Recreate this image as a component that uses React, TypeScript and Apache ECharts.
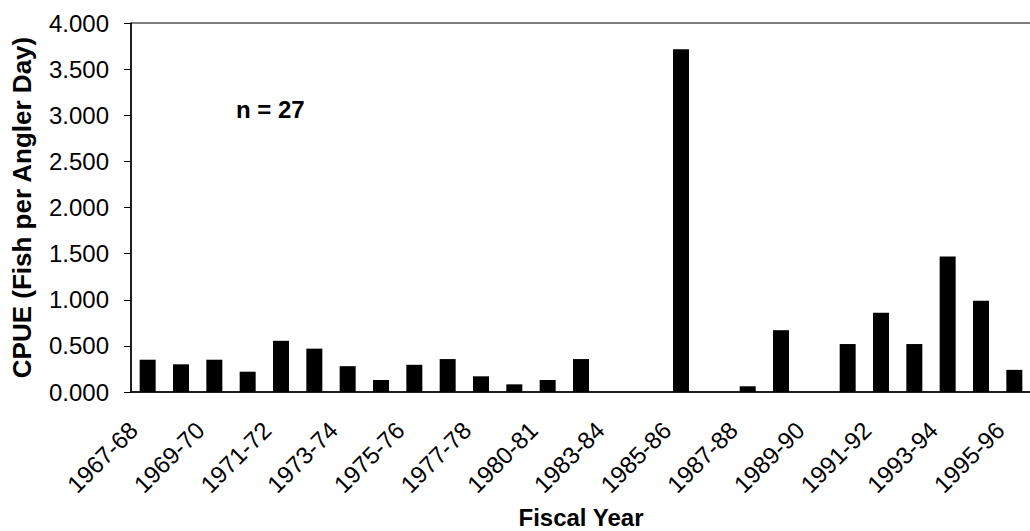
import React, { useEffect, useRef } from "react";
import * as echarts from "echarts";

const categories = [
  "1967-68", "1968-69", "1969-70", "1970-71", "1971-72", "1972-73", "1973-74",
  "1974-75", "1975-76", "1976-77", "1977-78", "1978-79", "1980-81", "1981-82",
  "1983-84", "1984-85", "1985-86", "1986-87", "1987-88", "1988-89", "1989-90",
  "1990-91", "1991-92", "1992-93", "1993-94", "1994-95", "1995-96",
];

const cpue = [
  0.35, 0.3, 0.35, 0.22, 0.555, 0.47, 0.28, 0.13, 0.295, 0.357, 0.17, 0.083,
  0.13, 0.357, 0, 0, 3.716, 0, 0.062, 0.67, 0, 0.52, 0.86, 0.52, 1.47, 0.99, 0.24,
];

const yMin = 0;
const yMax = 4;
const yStep = 0.5;
const sampleNote = "n = 27";
const yTitle = "CPUE (Fish per Angler Day)";
const xTitle = "Fiscal Year";

const FONT = '"Liberation Sans", Arial, sans-serif';

export default function App() {
  const ref = useRef<HTMLDivElement>(null);

  useEffect(() => {
    document.body.style.margin = "0";
    if (!ref.current) return;
    const chart = echarts.init(ref.current, undefined, { renderer: "svg" });
    chart.setOption({
      animation: false,
      backgroundColor: "#fff",
      grid: {
        left: 131,
        top: 23,
        width: 900,
        bottom: 139,
        containLabel: false,
        outerBoundsMode: "none",
        show: true,
        borderColor: "#000",
        borderWidth: 1,
        backgroundColor: "transparent",
      },
      xAxis: {
        type: "category",
        data: categories,
        axisLine: { show: true, lineStyle: { color: "#000", width: 1.5 } },
        axisTick: { show: false },
        axisLabel: {
          interval: 1,
          rotate: 45,
          margin: 20,
          padding: [0, 20, 0, 0],
          color: "#000",
          fontSize: 24,
          fontFamily: FONT,
        },
        name: xTitle,
        nameLocation: "middle",
        nameGap: 113,
        nameTextStyle: {
          color: "#000",
          fontSize: 24,
          fontWeight: "bold",
          fontFamily: FONT,
        },
      },
      yAxis: {
        type: "value",
        min: yMin,
        max: yMax,
        interval: yStep,
        axisLine: { show: true, lineStyle: { color: "#000", width: 1.5 } },
        axisTick: { show: true, inside: false, length: 7, lineStyle: { color: "#000" } },
        splitLine: { show: false },
        axisLabel: {
          margin: 22,
          color: "#000",
          fontSize: 24,
          fontFamily: FONT,
          formatter: (v: number) => v.toFixed(3),
        },
        name: yTitle,
        nameLocation: "middle",
        nameGap: 96,
        nameTextStyle: {
          color: "#000",
          fontSize: 26,
          fontWeight: "bold",
          fontFamily: FONT,
        },
      },
      series: [
        {
          type: "bar",
          data: cpue,
          barWidth: 16,
          itemStyle: { color: "#000" },
        },
      ],
      graphic: [
        {
          type: "text",
          x: 236,
          y: 109,
          style: {
            text: sampleNote,
            fill: "#000",
            font: `bold 24px ${FONT}`,
            verticalAlign: "middle",
          },
        },
      ],
    });
    return () => chart.dispose();
  }, []);

  return <div ref={ref} style={{ width: 1030, height: 531 }} />;
}
